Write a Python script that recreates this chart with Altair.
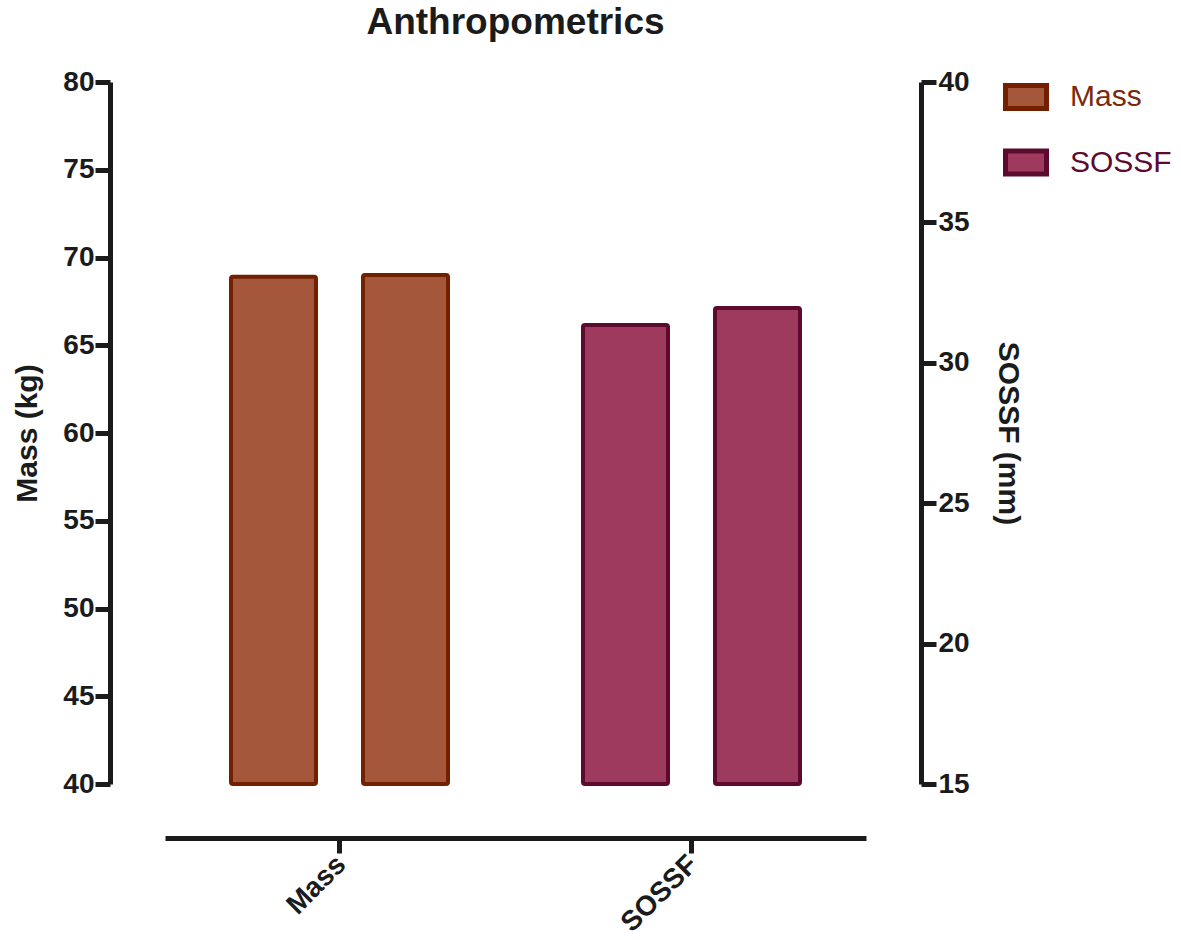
import altair as alt
import pandas as pd

# ---- data ----
groups = ["Mass", "Mass", "SOSSF", "SOSSF"]
bars = ["1", "2", "1", "2"]
values = [68.9, 69.0, 31.35, 31.95]

series = ["Mass", "SOSSF"]
fill_colors = ["#A5573C", "#9E3A5E"]
stroke_colors = ["#722000", "#5C0A2E"]
label_colors = ["#7A2A0A", "#5E0A30"]

mass_ticks = [40, 45, 50, 55, 60, 65, 70, 75, 80]
sossf_ticks = [15, 20, 25, 30, 35, 40]

df = pd.DataFrame({"group": groups, "bar": bars, "value": values})

FONT = "Liberation Sans"
AX = "#1b1b1b"

label_color_expr = (
    f"datum.label == '{series[0]}' ? '{label_colors[0]}' : '{label_colors[1]}'"
)

leg = alt.Legend(
    title=None,
    orient="none",
    legendX=838,
    legendY=-8,
    symbolType="M-1,-0.56L1,-0.56L1,0.56L-1,0.56Z",
    symbolSize=1681,
    symbolStrokeWidth=5,
    symbolOpacity=1,
    labelFont=FONT,
    labelFontSize=30,
    labelColor=alt.ExprRef(expr=label_color_expr),
    labelOffset=21,
    rowPadding=20.5,
    padding=0,
)

x_enc = alt.X(
    "group:N",
    sort=series,
    scale=alt.Scale(paddingInner=0.3835, paddingOuter=0.1875),
    axis=alt.Axis(
        title=None,
        labelAngle=-45,
        labelBaseline="middle",
        labelAlign="right",
        offset=54,
        domainWidth=5,
        tickWidth=5,
        tickSize=15,
        labelFontSize=28,
        labelFontWeight="bold",
        labelPadding=7,
        labelOffset=2,
    ),
)
xo_enc = alt.XOffset("bar:N", scale=alt.Scale(paddingInner=0.356, paddingOuter=0))
fill_enc = alt.Fill("group:N", scale=alt.Scale(domain=series, range=fill_colors), legend=leg)
stroke_enc = alt.Stroke("group:N", scale=alt.Scale(domain=series, range=stroke_colors), legend=leg)

common_axis = dict(
    domainWidth=5,
    tickWidth=5,
    tickSize=15,
    labelFontSize=28,
    labelFontWeight="bold",
    titleFontSize=30,
    titleFontWeight="bold",
    grid=False,
    offset=55,
)

base = alt.Chart(df).mark_bar(strokeWidth=4, cornerRadius=2, opacity=1)

mass_layer = base.transform_filter(alt.datum.group == "Mass").encode(
    x=x_enc,
    xOffset=xo_enc,
    y=alt.Y(
        "value:Q",
        scale=alt.Scale(domain=[mass_ticks[0], mass_ticks[-1]], nice=False, zero=False),
        axis=alt.Axis(title="Mass (kg)", orient="left", values=mass_ticks,
                      labelPadding=1, titlePadding=20, **common_axis),
    ),
    y2=alt.datum(mass_ticks[0]),
    fill=fill_enc,
    stroke=stroke_enc,
)

sossf_layer = base.transform_filter(alt.datum.group == "SOSSF").encode(
    x=x_enc,
    xOffset=xo_enc,
    y=alt.Y(
        "value:Q",
        scale=alt.Scale(domain=[sossf_ticks[0], sossf_ticks[-1]], nice=False, zero=False),
        axis=alt.Axis(title="SOSSF (mm)", orient="right", values=sossf_ticks,
                      labelPadding=2, titlePadding=23, titleAngle=90, **common_axis),
    ),
    y2=alt.datum(sossf_ticks[0]),
    fill=fill_enc,
    stroke=stroke_enc,
)

chart = (
    alt.layer(mass_layer, sossf_layer)
    .resolve_scale(y="independent")
    .properties(
        width=701,
        height=702,
        padding={"left": 165, "top": 82, "right": 315, "bottom": 156},
        autosize="none",
        title=alt.Title(
            "Anthropometrics",
            font=FONT,
            fontSize=37,
            fontWeight="bold",
            color=AX,
            anchor="middle",
            frame="group",
            baseline="alphabetic",
            offset=-3,
        ),
    )
    .configure(font=FONT, background="white")
    .configure_view(stroke=None)
    .configure_axis(
        labelFont=FONT,
        titleFont=FONT,
        labelColor=AX,
        titleColor=AX,
        domainColor=AX,
        tickColor=AX,
    )
)

chart.save("out.html", embed_options={"renderer": "svg", "actions": False})
